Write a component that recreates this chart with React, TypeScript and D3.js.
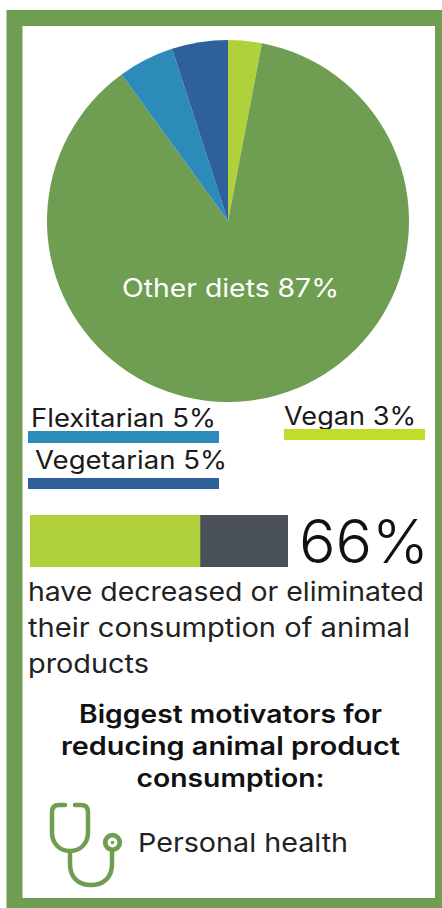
import React from "react";
import * as d3 from "d3";

const dietNames = ["Vegan", "Other diets", "Flexitarian", "Vegetarian"];
const dietShares = [3, 87, 5, 5];
const dietColors = ["#b1d13c", "#6f9e52", "#2d8bba", "#2e6099"];

const legendEntries = ["Flexitarian 5%", "Vegetarian 5%", "Vegan 3%"];
const legendShares = [5, 5, 3];
const legendColors = ["#2d8bba", "#2e6099", "#c2dc2c"];

const reducedShare = [66];
const bodyLines = ["have decreased or eliminated", "their consumption of animal", "products"];
const headingLines = ["Biggest motivators for", "reducing animal product", "consumption:"];

const sans = "Inter, 'Open Sans', sans-serif";

export default function App() {
  const arcs = d3.pie<number>().sort(null).value((d) => d)(dietShares);
  const arc = d3.arc<d3.PieArcDatum<number>>().innerRadius(0).outerRadius(181);
  const share = d3.scaleLinear().domain([0, 100]).range([30, 288]);
  const legendWidth = d3.scaleLinear().domain([0, 5]).range([0, 191]);

  return (
    <svg
      width={442}
      height={908}
      viewBox="0 0 442 908"
      style={{ position: "fixed", left: 0, top: 0, background: "#fff" }}
      fontFamily={sans}
    >
      {/* Page frame */}
      <rect x={14.5} y={18} width={428.5} height={888} fill="none" stroke="#6f9e52" strokeWidth={16} />

      {/* Diet breakdown */}
      <g transform="translate(228,221)">
        {arcs.map((a, i) => (
          <path key={dietNames[i]} d={arc(a) ?? ""} fill={dietColors[i]} />
        ))}
      </g>
      <text x={122} y={297} fontSize={25} fill="#fff" textLength={217} lengthAdjust="spacingAndGlyphs">
        Other diets 87%
      </text>

      {/* Legend bars with their captions */}
      <text x={31} y={427} fontSize={25} fill="#1a1a1a" textLength={185} lengthAdjust="spacingAndGlyphs">
        {legendEntries[0]}
      </text>
      <rect x={28} y={431} width={legendWidth(legendShares[0])} height={12} fill={legendColors[0]} />
      <text x={35} y={469} fontSize={25} fill="#1a1a1a" textLength={192} lengthAdjust="spacingAndGlyphs">
        {legendEntries[1]}
      </text>
      <rect x={28} y={478} width={legendWidth(legendShares[1])} height={11} fill={legendColors[1]} />
      <text x={284} y={425} fontSize={25} fill="#1a1a1a" textLength={132} lengthAdjust="spacingAndGlyphs">
        {legendEntries[2]}
      </text>
      <rect x={284} y={429} width={141} height={11} fill={legendColors[2]} />

      {/* Share of people cutting back */}
      <rect x={share(0)} y={515} width={share(100) - share(0)} height={52} fill="#4a5058" />
      <rect x={share(0)} y={515} width={share(reducedShare[0]) - share(0)} height={52} fill="#b1d13c" />
      <text x={299} y={563} fontSize={60} fontWeight={300} fill="#111" textLength={130} lengthAdjust="spacingAndGlyphs">
        {reducedShare[0]}%
      </text>

      {bodyLines.map((line, i) => (
        <text
          key={line}
          x={28}
          y={601 + i * 36}
          fontSize={26}
          fill="#222"
          textLength={[396, 382, 121][i]}
          lengthAdjust="spacingAndGlyphs"
        >
          {line}
        </text>
      ))}

      {headingLines.map((line, i) => (
        <text
          key={line}
          x={230.5}
          y={723 + i * 32}
          fontSize={25}
          fontWeight={600}
          fill="#111"
          textAnchor="middle"
          textLength={[303, 339, 188][i]}
          lengthAdjust="spacingAndGlyphs"
        >
          {line}
        </text>
      ))}

      {/* Stethoscope icon */}
      <g fill="none" stroke="#6f9e52" strokeWidth={4.5} strokeLinecap="round" strokeLinejoin="round">
        <path d="M65,805 H59 Q52,805 52,812 V832 C52,844 60,851 70,851 C80,851 88,844 88,832 V812 Q88,805 81,805 H75" />
        <path d="M70,851 V864 C70,877 78,885 91,885 C104,885 112,877 112,864 V851" />
        <circle cx={112.5} cy={842.5} r={7.3} strokeWidth={4.8} />
      </g>
      <circle cx={112.5} cy={842.5} r={1.8} fill="#6f9e52" />

      <text x={138} y={852} fontSize={26} fill="#222" textLength={210} lengthAdjust="spacingAndGlyphs">
        Personal health
      </text>
    </svg>
  );
}
